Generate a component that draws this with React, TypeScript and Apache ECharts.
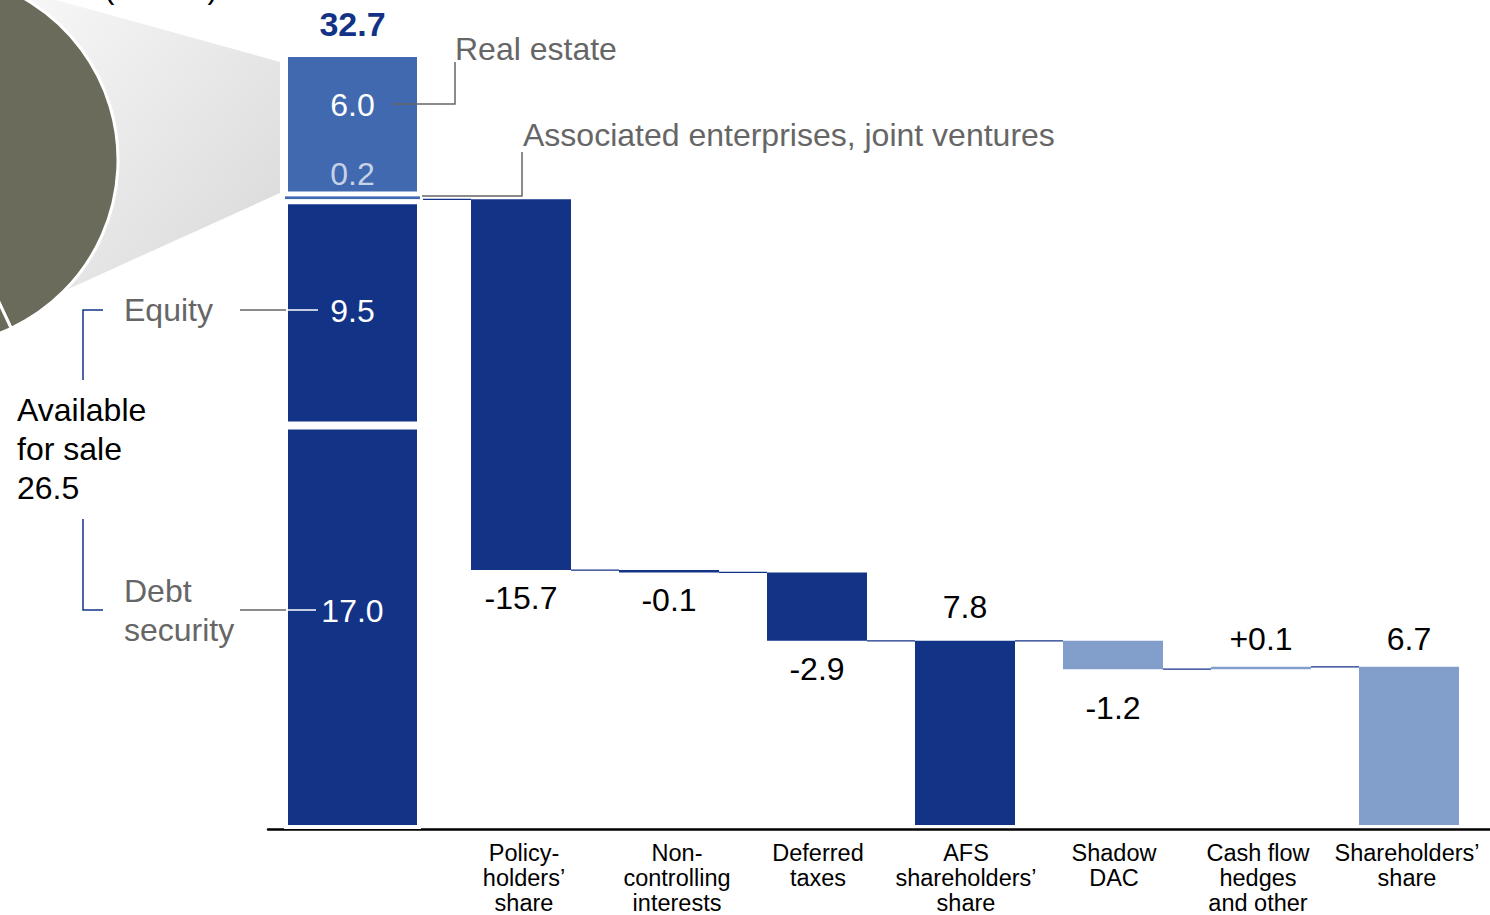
import React, { useEffect, useRef } from "react";
import * as echarts from "echarts";

// ---------- data ----------
const stackNames = ["Debt security", "Equity", "Associated enterprises, joint ventures", "Real estate"];
const stackValues = [17.0, 9.5, 0.2, 6.0];
const afsCount = 2; // first two components form "Available for sale"

const stepCategories = [
  "Policy-\nholders’\nshare",
  "Non-\ncontrolling\ninterests",
  "Deferred\ntaxes",
  "AFS\nshareholders’\nshare",
  "Shadow\nDAC",
  "Cash flow\nhedges\nand other",
  "Shareholders’\nshare",
];
const stepValues = [-15.7, -0.1, -2.9, 7.8, -1.2, 0.1, 6.7];
const stepIsTotal = [false, false, false, true, false, false, true];

const pieSlices = [68, 32];
const unitText = "(in € bn)";

// ---------- styles ----------
const FONT = '"Liberation Sans", Arial, Helvetica, sans-serif';
const DARK = "#133387";
const MID = "#4169B0";
const LIGHT = "#829FCC";
const GREY = "#666666";
const FS = 32;
const stackColors = [DARK, DARK, MID, MID];
const stackBorders = [4, 4, 1, 4];
const stackLabelColors = ["#ffffff", "#ffffff", "#C6D2E6", "#ffffff"];
const stackLabelOffsets = [-16, -2, -24, -19];
const stepColors = [DARK, DARK, DARK, DARK, LIGHT, LIGHT, LIGHT];
const stepLabelDistance = [12, 12, 12, 18, 23, 12, 12];
const catLabelShift = [3, 8, 1, 1, 1, -3, -2];

export default function App() {
  const ref = useRef<HTMLDivElement>(null);

  useEffect(() => {
    if (!ref.current) return;
    const chart = echarts.init(ref.current, null, { renderer: "svg" });

    const total = stackValues.reduce((a, b) => a + b, 0);
    const afsTotal = stackValues.slice(0, afsCount).reduce((a, b) => a + b, 0);

    // waterfall computation
    let running = afsTotal;
    const bases: number[] = [];
    const heights: number[] = [];
    const connectors: number[][] = [];
    stepValues.forEach((v, i) => {
      connectors.push([i, running]);
      if (stepIsTotal[i]) {
        bases.push(0);
        heights.push(v);
        running = v;
      } else if (v < 0) {
        bases.push(running + v);
        heights.push(-v);
        running += v;
      } else {
        bases.push(running);
        heights.push(v);
        running += v;
      }
    });
    const fmt = (v: number, i: number) =>
      stepIsTotal[i] ? v.toFixed(1) : v > 0 ? "+" + v.toFixed(1) : v.toFixed(1);

    const gridTop = 53;
    const gridBottom = 86;

    const textStyle = (text: string, x: number, y: number, fill: string, extra: any = {}) => ({
      type: "text",
      z: 10,
      silent: true,
      style: {
        text,
        x,
        y,
        fill,
        fontSize: FS,
        fontFamily: FONT,
        textAlign: "left",
        textVerticalAlign: "middle",
        align: "left",
        verticalAlign: "middle",
        ...extra,
      },
    });

    const stackSeries: any[] = stackValues.map((v, i) => ({
      type: "bar",
      name: stackNames[i],
      xAxisIndex: 0,
      yAxisIndex: 0,
      stack: "total",
      barWidth: "100%",
      data: [v],
      itemStyle: { color: stackColors[i], borderColor: "#ffffff", borderWidth: stackBorders[i] },
      label: {
        show: true,
        position: "inside",
        offset: [0, stackLabelOffsets[i]],
        formatter: () => v.toFixed(1),
        color: stackLabelColors[i],
        fontSize: FS,
        fontFamily: FONT,
      },
      z: 3,
    }));
    stackSeries.push({
      type: "bar",
      name: "Total",
      xAxisIndex: 0,
      yAxisIndex: 0,
      stack: "total",
      barWidth: "100%",
      data: [0],
      itemStyle: { color: "transparent" },
      label: {
        show: true,
        position: "inside",
        offset: [0, -29],
        formatter: () => total.toFixed(1),
        color: DARK,
        fontWeight: "bold",
        fontSize: 34,
        fontFamily: FONT,
      },
      z: 3,
    });

    const option: any = {
      animation: false,
      backgroundColor: "#ffffff",
      grid: [
        { left: 284, width: 137, top: gridTop, bottom: gridBottom },
        { left: 447, width: 1036, top: gridTop, bottom: gridBottom },
        { left: 268, right: 0, top: gridTop, bottom: gridBottom },
      ],
      xAxis: [
        {
          type: "category",
          gridIndex: 0,
          data: ["Total"],
          axisLine: { show: false },
          axisTick: { show: false },
          axisLabel: { show: false },
        },
        {
          type: "category",
          gridIndex: 1,
          data: stepCategories.map((c, i) => ({
            value: c,
            textStyle: {
              padding: catLabelShift[i] >= 0 ? [0, 0, 0, 2 * catLabelShift[i]] : [0, -2 * catLabelShift[i], 0, 0],
            },
          })),
          axisLine: { show: false },
          axisTick: { show: false },
          axisLabel: {
            interval: 0,
            margin: 15,
            fontSize: 23.5,
            lineHeight: 25,
            color: "#000000",
            fontFamily: FONT,
          },
        },
        {
          type: "value",
          gridIndex: 2,
          min: 0,
          max: 1,
          axisLine: { show: true, onZero: false, lineStyle: { color: "#000000", width: 2.5 } },
          axisTick: { show: false },
          axisLabel: { show: false },
          splitLine: { show: false },
        },
      ],
      yAxis: [0, 1, 2].map((g) => ({
        type: "value",
        gridIndex: g,
        min: 0,
        max: total,
        show: false,
        splitLine: { show: false },
      })),
      series: [
        {
          type: "pie",
          center: [-68, 160],
          radius: 186,
          startAngle: 180,
          silent: true,
          label: { show: false },
          labelLine: { show: false },
          itemStyle: { color: "#6B6B5B", borderColor: "#ffffff", borderWidth: 3 },
          data: pieSlices.map((v) => ({ value: v })),
          z: 3,
        },
        ...stackSeries,
        {
          type: "bar",
          name: "base",
          xAxisIndex: 1,
          yAxisIndex: 1,
          stack: "wf",
          barWidth: 100,
          silent: true,
          itemStyle: { color: "transparent" },
          data: bases,
        },
        {
          type: "bar",
          name: "change",
          xAxisIndex: 1,
          yAxisIndex: 1,
          stack: "wf",
          barWidth: 100,
          data: heights.map((h, i) => ({
            value: h,
            itemStyle: { color: stepColors[i] },
            label: {
              show: true,
              position: stepValues[i] < 0 ? "bottom" : "top",
              distance: stepLabelDistance[i],
              formatter: () => fmt(stepValues[i], i),
              color: "#000000",
              fontSize: FS,
              fontFamily: FONT,
            },
          })),
          z: 3,
        },
        {
          type: "custom",
          name: "connectors",
          xAxisIndex: 1,
          yAxisIndex: 1,
          silent: true,
          data: connectors,
          encode: { x: 0, y: 1 },
          renderItem: (params: any, api: any) => {
            const p = api.coord([api.value(0), api.value(1)]);
            const band = api.size([1, 0])[0];
            const x2 = p[0] - 50;
            const x1 = x2 - (band - 100);
            return {
              type: "line",
              shape: { x1, y1: p[1], x2, y2: p[1] },
              style: { stroke: DARK, lineWidth: 1.3 },
            };
          },
          z: 2,
        },
      ],
      graphic: [
        {
          type: "polygon",
          z: 0,
          silent: true,
          shape: { points: [[-20, -21], [280, 62], [280, 193], [-20, 329]] },
          style: {
            fill: new echarts.graphic.LinearGradient(0, 0, 1, 1, [
              { offset: 0, color: "#FBFBFB" },
              { offset: 1, color: "#D6D6D6" },
            ]),
          },
        },
        textStyle(unitText, 104, -13, "#000000", { fontSize: 31 }),
        // Real estate annotation
        {
          type: "polyline",
          z: 10,
          shape: { points: [[392, 104], [455, 104], [455, 62]] },
          style: { stroke: GREY, lineWidth: 1.5, fill: null },
        },
        textStyle(stackNames[3], 455, 49, GREY),
        // Associated annotation
        {
          type: "polyline",
          z: 10,
          shape: { points: [[422, 196], [522, 196], [522, 152]] },
          style: { stroke: GREY, lineWidth: 1.5, fill: null },
        },
        textStyle(stackNames[2], 523, 135, GREY),
        // Equity annotation
        {
          type: "line",
          z: 10,
          shape: { x1: 240, y1: 310, x2: 286, y2: 310 },
          style: { stroke: GREY, lineWidth: 1.5 },
        },
        {
          type: "line",
          z: 10,
          shape: { x1: 286, y1: 310, x2: 318, y2: 310 },
          style: { stroke: "#ffffff", lineWidth: 1.5 },
        },
        textStyle(stackNames[1], 124, 310, GREY),
        // Debt annotation
        {
          type: "line",
          z: 10,
          shape: { x1: 240, y1: 610, x2: 286, y2: 610 },
          style: { stroke: GREY, lineWidth: 1.5 },
        },
        {
          type: "line",
          z: 10,
          shape: { x1: 286, y1: 610, x2: 316, y2: 610 },
          style: { stroke: "#ffffff", lineWidth: 1.5 },
        },
        textStyle(stackNames[0].replace(" ", "\n"), 124, 610, GREY, { lineHeight: 39 }),
        // AFS bracket
        {
          type: "polyline",
          z: 10,
          shape: { points: [[103, 310], [83, 310], [83, 380]] },
          style: { stroke: DARK, lineWidth: 1.5, fill: null },
        },
        {
          type: "polyline",
          z: 10,
          shape: { points: [[83, 519], [83, 610], [103, 610]] },
          style: { stroke: DARK, lineWidth: 1.5, fill: null },
        },
        textStyle("Available\nfor sale\n" + afsTotal.toFixed(1), 17, 449, "#000000", { lineHeight: 39 }),
      ],
    };

    chart.setOption(option);
    return () => chart.dispose();
  }, []);

  return (
    <div
      ref={ref}
      style={{ position: "absolute", left: 0, top: 0, width: 1490, height: 915 }}
    />
  );
}
